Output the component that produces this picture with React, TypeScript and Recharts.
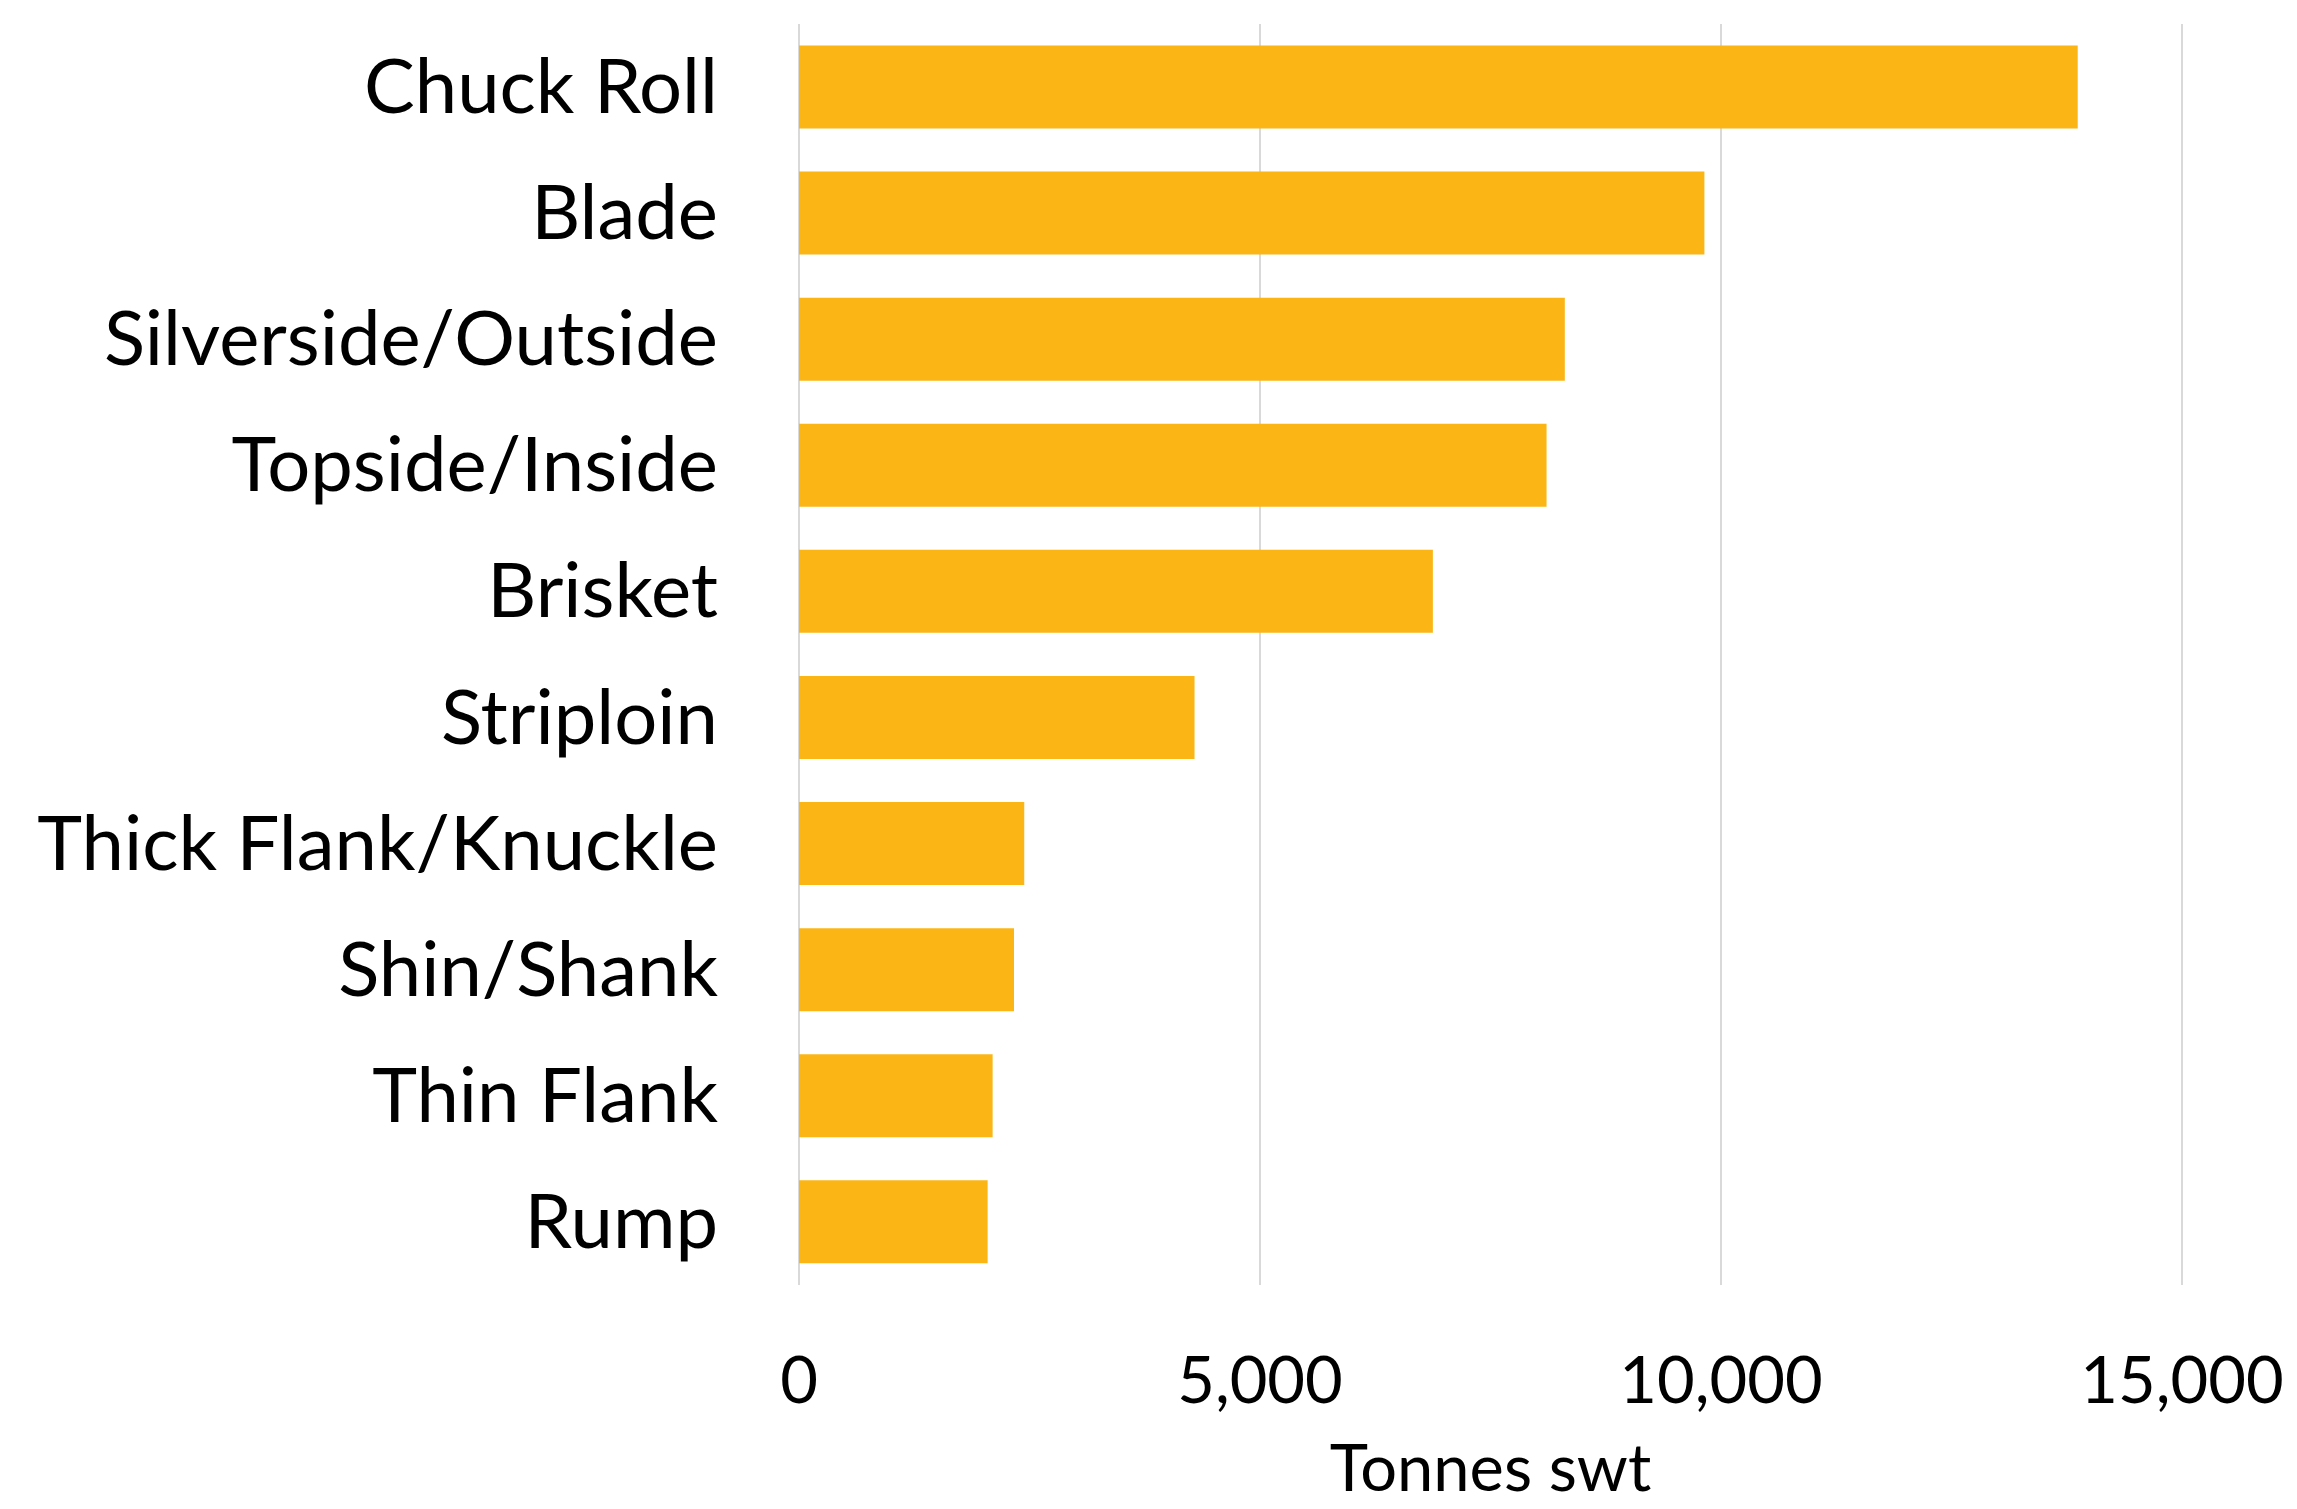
import React from 'react';
import { BarChart, Bar, XAxis, YAxis, CartesianGrid } from 'recharts';

const categories = [
  'Chuck Roll',
  'Blade',
  'Silverside/Outside',
  'Topside/Inside',
  'Brisket',
  'Striploin',
  'Thick Flank/Knuckle',
  'Shin/Shank',
  'Thin Flank',
  'Rump',
];
const tonnes = [13869, 9820, 8306, 8108, 6875, 4290, 2443, 2332, 2100, 2046];
const xTicks = [0, 5000, 10000, 15000];
const xAxisTitle = 'Tonnes swt';

const data = categories.map((name, i) => ({ name, value: tonnes[i] }));

const FONT = 'Lato, "Open Sans", sans-serif';

const XTick = (props: any) => {
  const { x, y, payload } = props;
  return (
    <text x={x} y={y + 118} textAnchor="middle" fontFamily={FONT} fontSize={65} fill="#000">
      {Number(payload.value).toLocaleString('en-US')}
    </text>
  );
};

const YTick = (props: any) => {
  const { x, y, payload } = props;
  return (
    <text x={x - 81} y={y + 26} textAnchor="end" fontFamily={FONT} fontSize={76} fill="#000">
      {payload.value}
    </text>
  );
};

export default function App() {
  return (
    <div style={{ position: 'absolute', left: 0, top: 0, width: 2297, height: 1509, background: '#fff' }}>
      <BarChart
        width={2297}
        height={1509}
        data={data}
        layout="vertical"
        margin={{ top: 24, right: 115, bottom: 0, left: 0 }}
        barCategoryGap="17%"
      >
        <CartesianGrid horizontal={false} vertical={true} stroke="#d9d9d9" strokeWidth={2} />
        <XAxis
          type="number"
          domain={[0, 15000]}
          ticks={xTicks}
          axisLine={false}
          tickLine={false}
          tickSize={0}
          tickMargin={0}
          height={224}
          tick={<XTick />}
          interval={0}
          label={{
            value: xAxisTitle,
            position: 'insideBottom',
            offset: 18,
            fontSize: 65,
            fontFamily: FONT,
            fill: '#000',
          }}
        />
        <YAxis
          type="category"
          dataKey="name"
          width={799}
          axisLine={false}
          tickLine={false}
          tickSize={0}
          tickMargin={0}
          tick={<YTick />}
          interval={0}
        />
        <Bar dataKey="value" fill="#FBB616" isAnimationActive={false} />
      </BarChart>
    </div>
  );
}
